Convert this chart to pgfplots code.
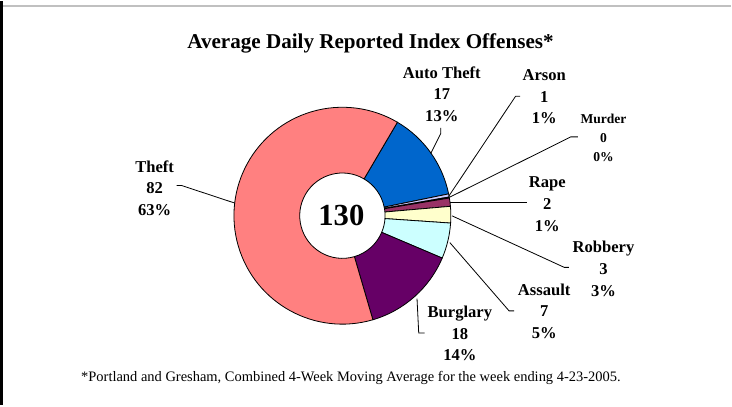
\documentclass[border=0pt]{standalone}
\usepackage{fontspec}
\setmainfont{Liberation Serif}
\usepackage{pgfplots}
\pgfplotsset{compat=1.18}
\usepackage{pgfplotstable}

\definecolor{theft}{HTML}{FF8080}
\definecolor{autotheft}{HTML}{0066CC}
\definecolor{arson}{HTML}{CCCCFF}
\definecolor{murder}{HTML}{FFFFFF}
\definecolor{rape}{HTML}{993366}
\definecolor{robbery}{HTML}{FFFFCC}
\definecolor{assault}{HTML}{CCFFFF}
\definecolor{burglary}{HTML}{660066}
\definecolor{framegray}{HTML}{C0C0C0}

% average daily offenses, clockwise from the Theft/Auto Theft edge
\pgfplotstableread{
name      value col
AutoTheft 17.3  autotheft
Arson     0.6   arson
Murder    0.2   murder
Rape      1.6   rape
Robbery   3.2   robbery
Assault   6.9   assault
Burglary  18.3  burglary
Theft     81.9  theft
}\piedata

% donut geometry (axis units are 1pt)
\def\cx{345}\def\cy{213.5}
\def\ro{108pt}\def\ri{42.5pt}
\def\total{130}

% build the slice paths from the table
\gdef\slices{}
\xdef\curang{59.5}
\pgfplotstablegetrowsof{\piedata}
\pgfmathtruncatemacro\lastrow{\pgfplotsretval-1}
\foreach \i in {0,...,\lastrow}{
  \pgfplotstablegetelem{\i}{value}\of\piedata
  \let\sliceval\pgfplotsretval
  \pgfplotstablegetelem{\i}{col}\of\piedata
  \let\slicecol\pgfplotsretval
  \pgfmathsetmacro\endang{\curang-\sliceval/\total*360}
  \xdef\slices{\unexpanded\expandafter{\slices}%
    \noexpand\filldraw[fill=\slicecol, draw=black, line width=0.8pt]
      ([shift={(\curang:\ro)}]axis cs:\cx,\cy)
      arc[start angle=\curang, end angle=\endang, radius=\ro]
      -- ([shift={(\endang:\ri)}]axis cs:\cx,\cy)
      arc[start angle=\endang, end angle=\curang, radius=\ri] -- cycle;}
  \xdef\curang{\endang}
}

\begin{document}
\begin{tikzpicture}[
	lbl/.style={font=\bfseries\fontsize{16.5}{21.5}\selectfont, align=center, inner sep=0pt},
	leader/.style={draw=black, line width=0.8pt}]
\begin{axis}[
	width=732pt,
	height=402pt,
	scale only axis,
	xmin=0, xmax=732,
	ymin=0, ymax=402,
	y dir=reverse,
	hide axis,
	clip=false]

	% frame lines
	\draw[framegray, line width=2pt] (axis cs:5,5) -- (axis cs:732,5);
	\draw[black, line width=2.6pt] (axis cs:5.3,0) -- (axis cs:5.3,402);

	% slices
	\slices

	% title, total and footnote
	\node[anchor=base, font=\bfseries\fontsize{21}{25}\selectfont] at (axis cs:373,47) {Average Daily Reported Index Offenses*};
	\node[anchor=base, font=\bfseries\fontsize{30.5}{34}\selectfont] at (axis cs:344,223.5) {130};
	\node[anchor=base, font=\fontsize{14.4}{17}\selectfont] at (axis cs:353.5,378.5) {*Portland and Gresham, Combined 4-Week Moving Average for the week ending 4-23-2005.};

	% labels
	\node[lbl] at (axis cs:158,186) {Theft\\82\\63\%};
	\node[lbl] at (axis cs:444,92.5) {Auto Theft\\17\\13\%};
	\node[lbl] at (axis cs:546,95) {Arson\\1\\1\%};
	\node[lbl, font=\bfseries\fontsize{13.5}{19}\selectfont] at (axis cs:605,136) {Murder\\0\\0\%};
	\node[lbl] at (axis cs:549,202) {Rape\\2\\1\%};
	\node[lbl] at (axis cs:605,266.5) {Robbery\\3\\3\%};
	\node[lbl] at (axis cs:546,308.7) {Assault\\7\\5\%};
	\node[lbl] at (axis cs:462,331) {Burglary\\18\\14\%};

	% leader lines
	\draw[leader] (axis cs:180,183.5) -- (axis cs:185,183.5) -- (axis cs:238,201);
	\draw[leader] (axis cs:443,126) -- (axis cs:443,131.5) -- (axis cs:433,151.5);
	\draw[leader] (axis cs:522,94.5) -- (axis cs:517.5,94.5) -- (axis cs:451,194);
	\draw[leader] (axis cs:579.5,135) -- (axis cs:572.5,135) -- (axis cs:452,195);
	\draw[leader] (axis cs:452,200.5) -- (axis cs:529,200.5);
	\draw[leader] (axis cs:454.3,213.7) -- (axis cs:566,265) -- (axis cs:570.5,265);
	\draw[leader] (axis cs:452,240.3) -- (axis cs:511,308.3) -- (axis cs:516,308.3);
	\draw[leader] (axis cs:419.3,296) -- (axis cs:421,330.3) -- (axis cs:427,330.3);
\end{axis}
\end{tikzpicture}
\end{document}
